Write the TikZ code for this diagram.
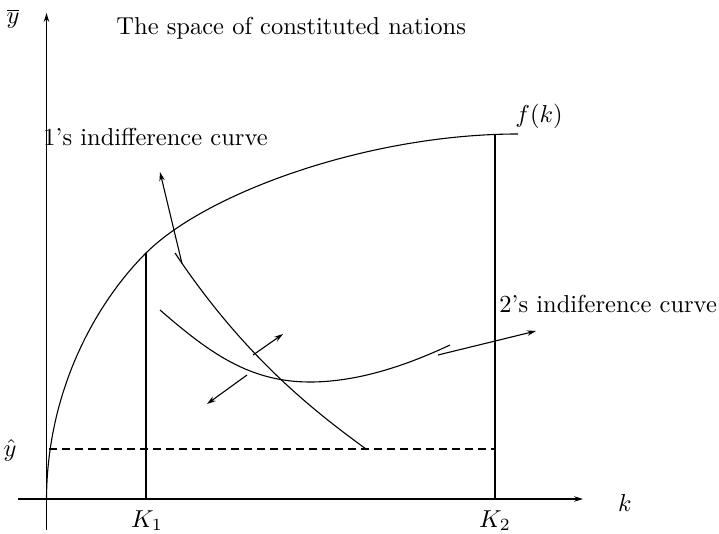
\documentclass[tikz,border=0pt]{standalone}
\usetikzlibrary{arrows.meta}
\begin{document}
\begin{tikzpicture}[x=1pt,y=-1pt,
  lbl/.style={scale=2.45,inner sep=0pt},
  ln/.style={line width=1.1pt},
  arr/.style={ln,-{Stealth[length=9pt,width=5.5pt]}}]
\useasboundingbox (0,0) rectangle (719,534);
% axes
\coordinate (ybot) at (46.5,530);
\coordinate (ytop) at (46.5,13);
\coordinate (xl) at (18,499);
\coordinate (xr) at (583,499);
\draw[arr] (ybot) -- (ytop);
\draw[arr] (xl) -- (xr);
% labels
\node[lbl,anchor=base west] (title) at (116,35) {The space of constituted nations};
\node[lbl,anchor=base west] (ic1) at (43,146) {1's indifference curve};
\node[lbl,anchor=base west] (ic2) at (499,312) {2's indiference curve};
\node[lbl,anchor=base west] (fk) at (515,123) {$f(k)$};
\node[lbl,anchor=base] (k) at (625,511) {$k$};
\node[lbl,anchor=base] (K1) at (147,527) {$K_1$};
\node[lbl,anchor=base] (K2) at (495,527) {$K_2$};
\node[lbl,anchor=base] (yh) at (10,456) {$\hat{y}$};
\node[lbl,anchor=base] (yb) at (13,24) {$\overline{y}$};
% f(k)
\coordinate (f0) at (46.5,499);
\coordinate (k1top) at (146,253);
\coordinate (fend) at (518,134);
\coordinate (k2top) at (495,135.2);
\coordinate (k1bot) at (146,499);
\coordinate (k2bot) at (495,499);
\draw[ln] (f0) .. controls (47,390) and (96,303) .. (k1top)
               .. controls (206,193) and (368,134) .. (fend);
\draw[ln] (k1bot) -- (k1top);
\draw[ln] (k2bot) -- (k2top);
% dashed y-hat line
\coordinate (dl) at (49,449);
\coordinate (dr) at (495,449);
\draw[ln,dash pattern=on 8pt off 5pt] (dl) -- (dr);
% 1's indifference curve
\coordinate (c1s) at (175,253);
\coordinate (c1e) at (366,449);
\draw[ln] (c1s) .. controls (245,358) and (316,412.5) .. (c1e);
\coordinate (a1s) at (182,263.5);
\coordinate (a1e) at (160,172);
\draw[arr] (a1s) -- (a1e);
% 2's indifference curve
\coordinate (c2s) at (160,310);
\coordinate (c2m) at (310,382);
\coordinate (c2e) at (450,345);
\draw[ln] (c2s) .. controls (210,353.5) and (250,382) .. (c2m)
                .. controls (360,382) and (410,363.8) .. (c2e);
\coordinate (a2s) at (438,355);
\coordinate (a2e) at (536,331);
\draw[arr] (a2s) -- (a2e);
% preference arrows
\coordinate (b1s) at (253,355);
\coordinate (b1e) at (283,334);
\draw[arr] (b1s) -- (b1e);
\coordinate (b2s) at (247,375);
\coordinate (b2e) at (207,404);
\draw[arr] (b2s) -- (b2e);
\end{tikzpicture}
\end{document}
